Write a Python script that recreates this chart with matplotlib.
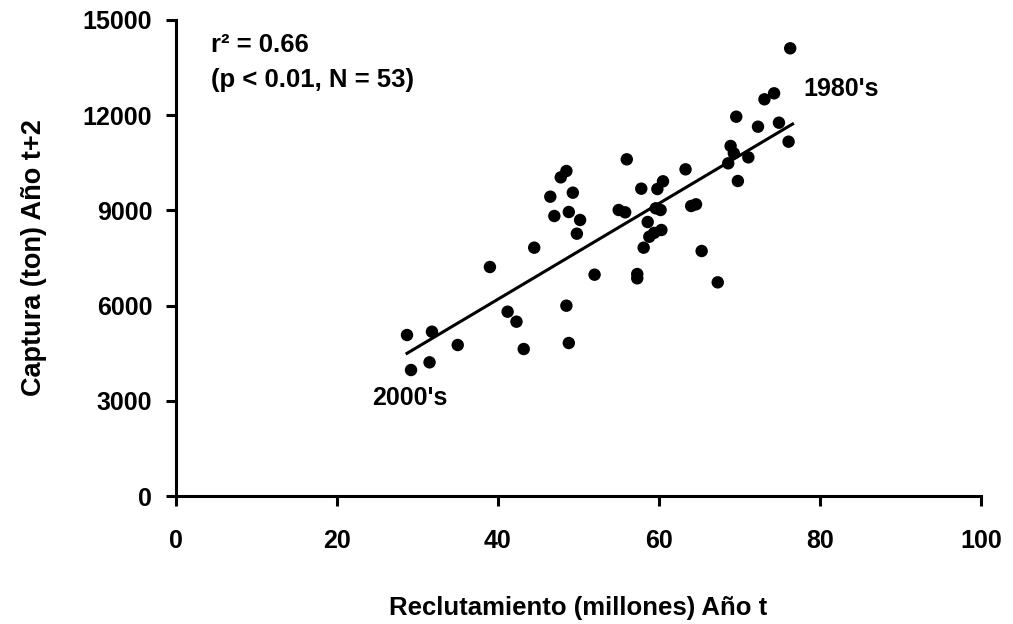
import numpy as np
import matplotlib
matplotlib.use("Agg")
import matplotlib.pyplot as plt

plt.rcParams['font.family'] = ['Liberation Sans', 'DejaVu Sans']
plt.rcParams['font.weight'] = 'bold'

# reclutamiento (millones) año t
reclutamiento = [28.7, 31.8, 29.2, 31.5, 35.0, 39.0, 41.2, 42.3, 43.2, 44.5,
                 48.5, 48.8, 46.5, 47.8, 48.5, 49.3, 47.0, 48.8, 50.2, 49.8,
                 52.0, 56.0, 55.0, 55.8, 57.8, 57.3, 57.3, 58.1, 58.6, 59.8,
                 60.5, 59.6, 60.2, 58.8, 59.4, 60.3, 63.3, 64.0, 64.6, 65.3,
                 67.3, 68.6, 68.9, 69.3, 69.6, 69.8, 71.1, 72.3, 73.1, 74.3,
                 74.9, 76.1, 76.3]
# captura (ton) año t+2
captura = [5073, 5177, 3970, 4212, 4758, 7216, 5808, 5493, 4632, 7825,
           5997, 4821, 9432, 10041, 10241, 9558, 8823, 8949, 8697, 8266,
           6974, 10609, 9012, 8939, 9684, 6995, 6860, 7825, 8634, 9673,
           9916, 9065, 9012, 8170, 8290, 8382, 10294, 9138, 9191, 7720,
           6733, 10483, 11029, 10798, 11952, 9926, 10671, 11637, 12500, 12689,
           11763, 11165, 14107]

# recta de regresion (extremos)
fit_x = [28.7, 76.6]
fit_y = [4496, 11722]

xticks = [0, 20, 40, 60, 80, 100]
yticks = [0, 3000, 6000, 9000, 12000, 15000]

fig = plt.figure(figsize=(10.13, 6.24), dpi=100)
ax = fig.add_axes([0.1737, 0.2051, 0.7947, 0.7629])

ax.plot(fit_x, fit_y, color="black", lw=2.2, zorder=2)
ax.scatter(reclutamiento, captura, s=80, color="black", edgecolors="none", zorder=3)

ax.set_xlim(0, 100)
ax.set_ylim(0, 15000)
ax.set_xticks(xticks)
ax.set_yticks(yticks)

for side in ["top", "right"]:
    ax.spines[side].set_visible(False)
for side in ["left", "bottom"]:
    ax.spines[side].set_linewidth(2.2)

ax.tick_params(axis="both", direction="out", length=7, width=2.2, labelsize=18)
ax.tick_params(axis="x", pad=17)
ax.tick_params(axis="y", pad=10)
for lab in ax.get_xticklabels() + ax.get_yticklabels():
    lab.set_fontweight("bold")

ax.set_xlabel("Reclutamiento (millones) Año t", fontsize=18.5, fontweight="bold", labelpad=31)
ax.set_ylabel("Captura (ton) Año t+2", fontsize=19.5, fontweight="bold", labelpad=26)

ax.text(4.3, 14211, "r² = 0.66", fontsize=18.5, fontweight="bold", va="center")
ax.text(4.3, 13108, "(p < 0.01, N = 53)", fontsize=18.5, fontweight="bold", va="center")
ax.text(24.4, 3088, "2000's", fontsize=18, fontweight="bold", va="center")
ax.text(77.9, 12825, "1980's", fontsize=18, fontweight="bold", va="center")

fig.savefig("out.png", dpi=100)
